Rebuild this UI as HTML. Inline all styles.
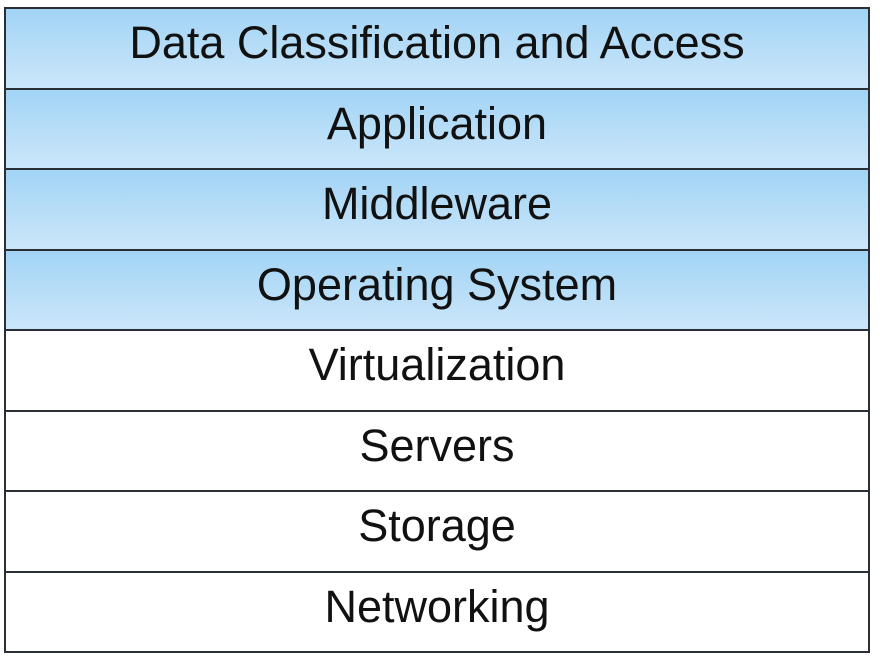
<!DOCTYPE html>
<html><head><style>
body{margin:0;width:880px;height:662px;background:#fff;position:relative;overflow:hidden;font-family:"Liberation Sans",sans-serif;}
.t{position:absolute;left:4px;top:7px;width:862px;border:2px solid #2a2f36;box-sizing:content-box;}
.r{height:78.5px;border-bottom:2px solid #2a2f36;display:flex;align-items:center;justify-content:center;font-size:45px;color:#111;box-sizing:border-box;padding-bottom:10px;}
.r:last-child{border-bottom:none;}
.b{background:linear-gradient(#a2d4f5,#cbe6fa);}
</style></head><body>
<div class="t">
<div class="r b" style="height:80.5px">Data Classification and Access</div>
<div class="r b" style="height:80.5px">Application</div>
<div class="r b" style="height:80.5px">Middleware</div>
<div class="r b" style="height:80.5px">Operating System</div>
<div class="r" style="height:80.5px">Virtualization</div>
<div class="r" style="height:80.5px">Servers</div>
<div class="r" style="height:80.5px">Storage</div>
<div class="r" style="height:78.5px">Networking</div>
</div>
</body></html>
